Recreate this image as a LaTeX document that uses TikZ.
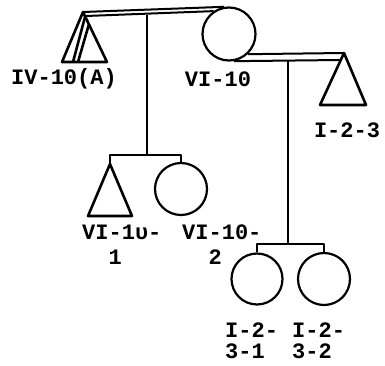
\documentclass[tikz,border=0pt]{standalone}
\usepackage{fontspec}
\setmonofont{Liberation Mono}
\usepackage{tikz}
\usetikzlibrary{positioning}

\tikzset{
  female/.style={draw, circle, line width=2.2pt, minimum size=51pt, inner sep=0pt},
  kin/.style={line width=2.6pt, line join=round},
  tag/.style={font=\ttfamily\bfseries\fontsize{22}{25}\selectfont, inner sep=0pt, align=left},
}

\begin{document}
\begin{tikzpicture}[x=1pt,y=-1pt]
  \useasboundingbox (0,0) rectangle (385,366);
  % first couple
  \coordinate (iv10) at (83,12);
  \draw[kin] (iv10) -- (62,62) -- (107,62) -- cycle;
  \draw[kin] (85,17) -- (73,62) (89,24) -- (78,62);
  \node[female, minimum size=53pt] (vi10) at (229,34) {};
  \draw[kin, line width=2pt] (iv10) -- (vi10.100);
  \draw[kin, line width=2pt] (86,16) -- (vi10.124);
  % second couple
  \coordinate (i23) at (344,53);
  \draw[kin] (i23) -- (320,105) -- (366,105) -- cycle;
  \draw[kin, line width=2pt] (vi10.-47) -- (i23);
  \draw[kin, line width=2pt] (vi10.-80) -- (340.8,60);
  % children of first couple
  \coordinate (top1) at (147,15);
  \coordinate (bar1) at (147,155);
  \coordinate (vi101) at (110,164);
  \draw[kin] (vi101) -- (88,216) -- (132,216) -- cycle;
  \node[female, minimum size=52pt] (vi102) at (181,189) {};
  \draw[kin] (top1) -- (bar1);
  \draw[kin] (vi101) |- (bar1) -| (vi102.north);
  % children of second couple
  \coordinate (top2) at (288,61);
  \coordinate (bar2) at (288,244);
  \node[female] (i231) at (257,279) {};
  \node[female, minimum size=52pt] (i232) at (324,279) {};
  \draw[kin] (top2) -- (bar2);
  \draw[kin] (i231.north) |- (bar2) -| (i232.north);
  % labels
  \node[tag] (t-iv10) at (64,79) {IV-10(A)};
  \node[tag] (t-vi10) at (218,79) {VI-10};
  \node[tag] (t-i23) at (347,130) {I-2-3};
  \node[tag, anchor=north west] (t-vi101) at (82,225) {VI-1υ-\\\phantom{VI}1};
  \node[tag, anchor=north west] (t-vi102) at (182,225) {VI-10-\\\phantom{VI}2};
  \node[tag, anchor=north west] (t-i231) at (225,323) {I-2-\\[-4pt]3-1};
  \node[tag, anchor=north west] (t-i232) at (292,323) {I-2-\\[-4pt]3-2};
\end{tikzpicture}
\end{document}
